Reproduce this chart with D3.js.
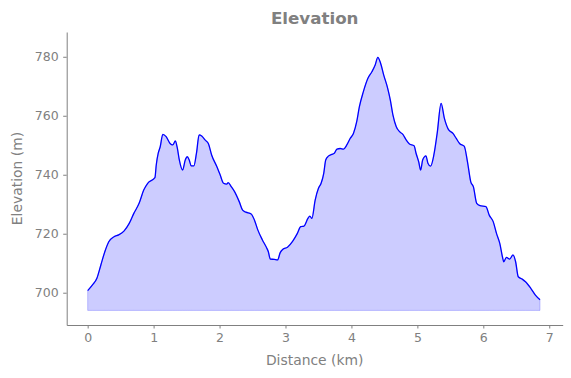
<!DOCTYPE html>
<html>
<head>
<meta charset="utf-8">
<script src="https://cdn.jsdelivr.net/npm/d3@7"></script>
<style>
  html, body { margin: 0; padding: 0; background: #fff; }
  svg { display: block; font-family: "DejaVu Sans", sans-serif; }
  .axis text { fill: #808080; font-size: 12.5px; }
  .axis path, .axis line { stroke: #808080; }
  .axis-label { fill: #808080; font-size: 13.9px; }
  .title { fill: #808080; font-size: 16.7px; font-weight: bold; }
</style>
</head>
<body>
<div id="chart"></div>
<script>
// elevation profile
const distanceKm = [
  0.00, 0.07, 0.14, 0.20, 0.26, 0.32, 0.40, 0.47, 0.55, 0.63, 0.70, 0.78, 0.85, 0.91,
  1.02, 1.04, 1.07, 1.10, 1.14, 1.19, 1.25, 1.29, 1.33, 1.36, 1.39, 1.44, 1.48, 1.51,
  1.54, 1.57, 1.61, 1.65, 1.69, 1.73, 1.78, 1.83, 1.88, 1.96, 2.01, 2.06, 2.11, 2.13,
  2.18, 2.23, 2.30, 2.35, 2.40, 2.48, 2.53, 2.58, 2.65, 2.71, 2.74, 2.77, 2.83, 2.88,
  2.92, 2.96, 3.03, 3.11, 3.18, 3.23, 3.28, 3.34, 3.37, 3.40, 3.45, 3.50, 3.54, 3.58,
  3.61, 3.65, 3.70, 3.74, 3.78, 3.83, 3.88, 3.93, 3.98, 4.03, 4.08, 4.12, 4.18, 4.25,
  4.31, 4.36, 4.40, 4.44, 4.49, 4.55, 4.59, 4.63, 4.68, 4.73, 4.78, 4.83, 4.88, 4.95,
  4.98, 5.02, 5.05, 5.08, 5.13, 5.16, 5.20, 5.25, 5.30, 5.36, 5.41, 5.47, 5.54, 5.59,
  5.64, 5.71, 5.76, 5.81, 5.85, 5.90, 5.95, 6.04, 6.09, 6.15, 6.20, 6.25, 6.29, 6.31,
  6.35, 6.40, 6.45, 6.49, 6.53, 6.59, 6.64, 6.72, 6.79, 6.86
];
const elevationM = [
  700.7, 702.6, 704.9, 709.4, 713.9, 717.3, 719.0, 719.6, 720.9, 723.5, 726.9, 730.3, 734.8, 737.1,
  739.0, 743.3, 747.3, 749.5, 753.7, 752.9, 750.6, 750.1, 751.5, 749.0, 745.0, 741.6, 745.0, 746.1,
  745.0, 743.0, 743.0, 747.3, 753.5, 753.1, 751.8, 750.6, 746.7, 742.7, 739.9, 737.1, 736.8, 737.3,
  735.9, 734.2, 730.8, 728.0, 727.3, 726.7, 724.6, 721.3, 717.9, 715.4, 713.9, 711.4, 711.3, 711.1,
  713.6, 714.7, 715.4, 717.5, 720.1, 722.4, 722.6, 725.2, 726.0, 725.2, 731.4, 735.4, 737.1, 740.5,
  745.0, 746.3, 746.9, 747.3, 748.7, 748.9, 748.7, 750.1, 752.3, 754.0, 758.0, 763.0, 768.1, 772.7,
  774.9, 777.2, 779.8, 778.0, 773.8, 769.3, 765.3, 760.2, 756.3, 754.6, 753.7, 751.8, 750.4, 749.8,
  747.3, 744.4, 741.6, 745.0, 746.4, 743.9, 742.9, 746.7, 754.0, 764.2, 759.1, 755.4, 754.0, 752.3,
  750.6, 749.7, 744.4, 737.6, 735.9, 730.3, 729.5, 729.2, 726.3, 724.1, 720.1, 716.7, 712.2, 710.5,
  712.0, 711.4, 712.8, 710.5, 705.4, 704.6, 703.7, 701.5, 699.2, 697.6
];
const fillBase = 694;   // fill_between floor
const xTicks = [0, 1, 2, 3, 4, 5, 6, 7];
const yTicks = [700, 720, 740, 760, 780];

const W = 571, H = 378;
const plot = { left: 66.7, top: 32, right: 562.7, bottom: 325 };

const svg = d3.select("#chart").append("svg")
  .attr("width", W).attr("height", H)
  .attr("viewBox", `0 0 ${W} ${H}`);

const x = d3.scaleLinear().domain([-0.318, 7.204]).range([plot.left, plot.right]);
const y = d3.scaleLinear().domain([689.05, 788.4]).range([plot.bottom, plot.top]);

const pts = distanceKm.map((d, i) => ({ d, e: elevationM[i] }));

// shaded area under the profile
svg.append("path")
  .datum(pts)
  .attr("d", d3.area().x((p) => x(p.d)).y0(y(fillBase)).y1((p) => y(p.e)).curve(d3.curveMonotoneX))
  .attr("fill", "rgba(0,0,255,0.2)")
  .attr("stroke", "rgba(0,0,255,0.2)")
  .attr("stroke-width", 1);

svg.append("path")
  .datum(pts)
  .attr("d", d3.line().x((p) => x(p.d)).y((p) => y(p.e)).curve(d3.curveMonotoneX))
  .attr("fill", "none")
  .attr("stroke", "#0000ff")
  .attr("stroke-width", 1.3)
  .attr("stroke-linejoin", "round");

// axes (only left + bottom spines)
const xAx = svg.append("g").attr("class", "axis")
  .attr("transform", `translate(0,${plot.bottom})`)
  .call(d3.axisBottom(x).tickValues(xTicks).tickSize(3.5).tickPadding(4.5).tickSizeOuter(0));
const yAx = svg.append("g").attr("class", "axis")
  .attr("transform", `translate(${plot.left},0)`)
  .call(d3.axisLeft(y).tickValues(yTicks).tickSize(3.5).tickPadding(4.5).tickSizeOuter(0));
svg.selectAll(".axis text").attr("font-family", null);
svg.selectAll(".axis").attr("font-size", null).attr("font-family", null);

svg.append("text").attr("class", "axis-label")
  .attr("x", (plot.left + plot.right) / 2).attr("y", 365)
  .attr("text-anchor", "middle")
  .text("Distance (km)");

svg.append("text").attr("class", "axis-label")
  .attr("transform", `translate(21.5,${(plot.top + plot.bottom) / 2}) rotate(-90)`)
  .attr("text-anchor", "middle")
  .text("Elevation (m)");

svg.append("text").attr("class", "title")
  .attr("x", (plot.left + plot.right) / 2).attr("y", 24)
  .attr("text-anchor", "middle")
  .text("Elevation");
</script>
</body>
</html>
